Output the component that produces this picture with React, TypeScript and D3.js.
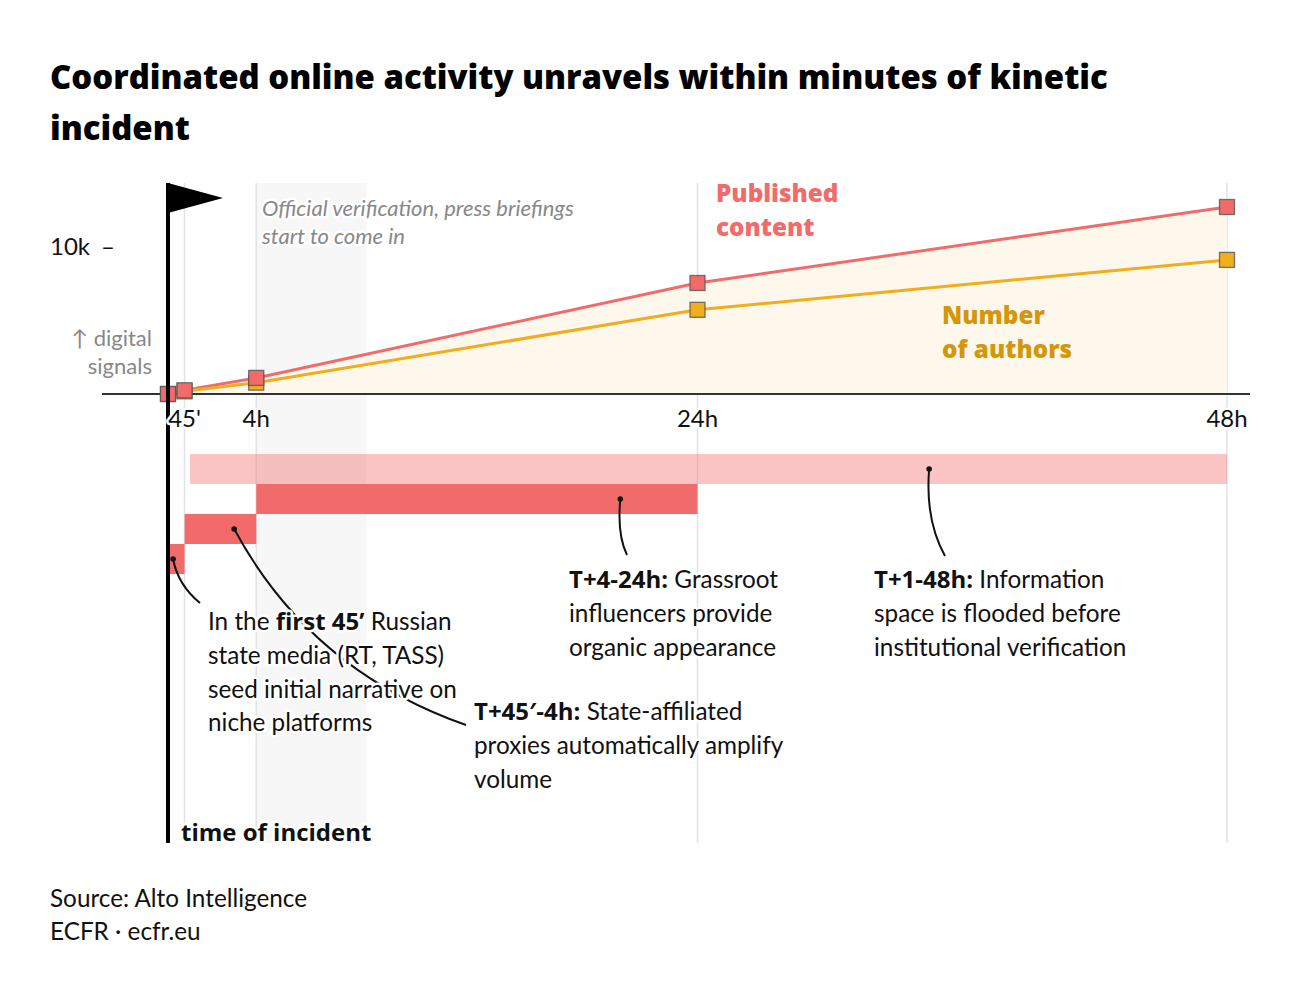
import React from "react";
import * as d3 from "d3";

const W = 1300;
const H = 998;

const hours = [0, 0.75, 4, 24, 48];
const tickHours = [0.75, 4, 24, 48];
const tickLabels = ["45'", "4h", "24h", "48h"];
const published = [0, 250, 1080, 7450, 12550];
const authors = [0, 180, 760, 5650, 9000];
const verificationBand = [4, 9];

const phaseStart = [0, 0.75, 4, 1];
const phaseEnd = [0.75, 4, 24, 48];
const phaseRow = [3, 2, 1, 0];
const phaseLight = [false, false, false, true];

const FONT = "Lato, 'Open Sans', sans-serif";
const BOLD = "'Open Sans', Lato, sans-serif";
const RED = "#f26b6b";
const ORANGE = "#f0ad1d";

const x = d3.scaleLinear().domain([0, 48]).range([168, 1227]);
const y = d3.scaleLinear().domain([0, 10000]).range([394, 245]);
const rowY = d3.scaleLinear().domain([0, 1]).range([454, 484]);
const ROW_H = 30;

const TOP = 183;
const BOTTOM = 843;

function Halo({ children, ...props }: any) {
  return (
    <text {...props} stroke="#fff" strokeWidth={5} strokeLinejoin="round" paintOrder="stroke">
      {children}
    </text>
  );
}

export default function App() {
  const pts = hours.map((h, i) => ({ h, p: published[i], a: authors[i] }));
  const area = d3
    .area<any>()
    .x((d) => x(d.h))
    .y0(y(0))
    .y1((d) => y(d.p))(pts);
  const lineP = d3
    .line<any>()
    .x((d) => x(d.h))
    .y((d) => y(d.p))(pts);
  const lineA = d3
    .line<any>()
    .x((d) => x(d.h))
    .y((d) => y(d.a))(pts);

  const rowC = (r: number) => rowY(r) + ROW_H / 2;

  const connectors = [
    { h: 0.23, r: 3, ex: 200, ey: 603, cx: 178, cy: 585 },
    { h: 3.0, r: 2, ex: 466, ey: 725, cx: 310, cy: 670 },
    { h: 20.5, r: 1, ex: 627, ey: 555, cx: 617, cy: 535 },
    { h: 34.5, r: 0, ex: 945, ey: 556, cx: 925, cy: 520 },
  ];

  const body = { fontFamily: FONT, fontSize: 24.3, fill: "#111" } as any;
  const B = { fontFamily: BOLD, fontWeight: 700, fontSize: 24 } as any;

  return (
    <svg
      width={W}
      height={H}
      style={{ position: "absolute", left: 0, top: 0, background: "#fff" }}
    >
      <rect width={W} height={H} fill="#fff" />
      <g fontFamily={BOLD} fontSize={32.9} fontWeight={800} fill="#000">
        <text x={50} y={89}>
          Coordinated online activity unravels within minutes of kinetic
        </text>
        <text x={50} y={140}>incident</text>
      </g>

      {/* verification band */}
      <rect
        x={x(verificationBand[0])}
        y={TOP}
        width={x(verificationBand[1]) - x(verificationBand[0])}
        height={BOTTOM - TOP}
        fill="#f7f7f7"
      />
      {/* gridlines */}
      {tickHours.map((h, i) => (
        <line key={i} x1={x(h)} x2={x(h)} y1={TOP} y2={BOTTOM} stroke="#e3e3e3" strokeWidth={1.5} />
      ))}

      {/* area & lines */}
      <path d={area!} fill="#fdf7ec" />
      <line x1={102} x2={1250} y1={y(0)} y2={y(0)} stroke="#333" strokeWidth={2} />
      <path d={lineP!} fill="none" stroke={RED} strokeWidth={3} />
      <path d={lineA!} fill="none" stroke={ORANGE} strokeWidth={3} />
      {pts.map((d, i) => (
        <rect key={"a" + i} x={x(d.h) - 7.5} y={y(d.a) - 7.5} width={15} height={15} fill={ORANGE} stroke="#555" strokeOpacity={0.8} strokeWidth={1.3} />
      ))}
      {pts.map((d, i) => (
        <rect key={"p" + i} x={x(d.h) - 7.5} y={y(d.p) - 7.5} width={15} height={15} fill={RED} stroke="#555" strokeOpacity={0.8} strokeWidth={1.3} />
      ))}

      {/* gantt bars */}
      {phaseStart.map((s, i) => (
        <rect
          key={"b" + i}
          x={x(s)}
          y={rowY(phaseRow[i])}
          width={x(phaseEnd[i]) - x(s)}
          height={ROW_H}
          fill={RED}
          fillOpacity={phaseLight[i] ? 0.4 : 1}
        />
      ))}

      {/* connectors */}
      {connectors.map((c, i) => {
        const sx = x(c.h);
        const sy = rowC(c.r);
        const p = d3.path();
        p.moveTo(sx, sy);
        p.quadraticCurveTo(c.cx, c.cy, c.ex, c.ey);
        return (
          <g key={"c" + i}>
            <path d={p.toString()} fill="none" stroke="#111" strokeWidth={2} />
            <circle cx={sx} cy={sy} r={2.8} fill="#111" />
          </g>
        );
      })}

      {/* pole & flag */}
      <line x1={x(0)} x2={x(0)} y1={TOP} y2={BOTTOM} stroke="#000" strokeWidth={4} />
      <path d={`M${x(0)},${TOP} L${x(0) + 55},${TOP + 15} L${x(0)},${TOP + 30} Z`} fill="#000" />

      {/* tick labels */}
      {tickHours.map((h, i) => (
        <Halo key={"t" + i} x={x(h)} y={427} textAnchor="middle" fontFamily={FONT} fontSize={24} fill="#111">
          {tickLabels[i]}
        </Halo>
      ))}
      <text x={50} y={255} fontFamily={FONT} fontSize={24} fill="#111">
        10k
      </text>
      <text x={108} y={255} textAnchor="middle" fontFamily={FONT} fontSize={24} fill="#111">
        –
      </text>
      <text x={152} y={346} textAnchor="end" fontFamily={FONT} fontSize={22} fill="#888">
        ↑ digital
      </text>
      <text x={152} y={374} textAnchor="end" fontFamily={FONT} fontSize={22} fill="#888">
        signals
      </text>

      <Halo x={262} y={216} fontFamily={FONT} fontSize={22} fontStyle="italic" fill="#888">
        Official verification, press briefings
      </Halo>
      <Halo x={262} y={244} fontFamily={FONT} fontSize={22} fontStyle="italic" fill="#888">
        start to come in
      </Halo>

      <g fontFamily={BOLD} fontSize={24.3} fontWeight={800}>
        <text x={716} y={202} fill={RED}>Published</text>
        <text x={716} y={236} fill={RED}>content</text>
        <text x={942} y={324} fill="#d4960a">Number</text>
        <text x={942} y={358} fill="#d4960a">of authors</text>
      </g>

      {/* annotations */}
      <g {...body}>
        <Halo x={208} y={630}>
          In the <tspan {...B}>first 45’</tspan> Russian
        </Halo>
        <Halo x={208} y={664}>state media (RT, TASS)</Halo>
        <Halo x={208} y={698}>seed initial narrative on</Halo>
        <Halo x={208} y={731}>niche platforms</Halo>

        <Halo x={474} y={720}>
          <tspan {...B}>T+45′-4h:</tspan> State-affiliated
        </Halo>
        <Halo x={474} y={754}>proxies automatically amplify</Halo>
        <Halo x={474} y={788}>volume</Halo>

        <Halo x={569} y={588}>
          <tspan {...B}>T+4-24h:</tspan> Grassroot
        </Halo>
        <Halo x={569} y={622}>influencers provide</Halo>
        <Halo x={569} y={656}>organic appearance</Halo>

        <Halo x={874} y={588}>
          <tspan {...B}>T+1-48h:</tspan> Information
        </Halo>
        <Halo x={874} y={622}>space is flooded before</Halo>
        <Halo x={874} y={656}>institutional verification</Halo>

        <Halo x={181} y={841} {...B}>time of incident</Halo>

        <text x={50} y={907} fill="#111">Source: Alto Intelligence</text>
        <text x={50} y={940} fill="#111">ECFR · ecfr.eu</text>
      </g>
    </svg>
  );
}
